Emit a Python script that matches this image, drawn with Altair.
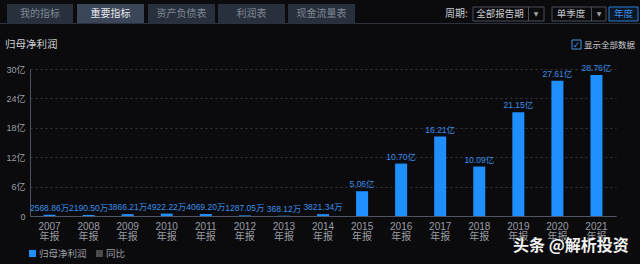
import altair as alt
import pandas as pd

# ---------------- data ----------------
years = ["2007", "2008", "2009", "2010", "2011", "2012", "2013", "2014",
         "2015", "2016", "2017", "2018", "2019", "2020", "2021"]
profit_yi = [0.256886, 0.219050, 0.386621, 0.492222, 0.406920, 0.128705, 0.036812, 0.382134,
             5.06, 10.70, 16.21, 10.09, 21.15, 27.61, 28.76]
profit_labels = ["2568.86万", "2190.50万", "3866.21万", "4922.22万", "4069.20万", "1287.05万",
                 "368.12万", "3821.34万", "5.06亿", "10.70亿", "16.21亿", "10.09亿",
                 "21.15亿", "27.61亿", "28.76亿"]
y_ticks = [0, 6, 12, 18, 24, 30]
tabs = ["我的指标", "重要指标", "资产负债表", "利润表", "现金流量表"]

# ---------------- layout / style ----------------
BG = "#0b0b0d"
BLUE = "#1f8fff"
LBLUE = "#3b8ee8"
OX, OY = 30, 69           # plot-area origin in page pixels
W, H = 586, 147
NUMF = "Liberation Sans, Noto Sans CJK SC, sans-serif"
CJKF = "Noto Sans CJK SC, sans-serif"

df = pd.DataFrame({"year": years, "value": profit_yi, "label": profit_labels})

xenc = alt.X("year:N", sort=None, title=None,
             scale=alt.Scale(paddingInner=0, paddingOuter=0),
             axis=alt.Axis(labelExpr="[datum.label, '年报']", labelAngle=0, ticks=False,
                           domainColor="#4f5563", labelColor="#9a9da3", labelFontSize=10,
                           labelFont=NUMF, labelLineHeight=10, labelPadding=5, grid=False,
                           labelOverlap=False))
yaxis = alt.Axis(values=y_ticks, tickCount=20,
                 labelExpr="datum.value == 0 ? '0' : datum.value + '亿'",
                 ticks=False, domainColor="#4c5062", labelColor="#9a9da3",
                 labelFontSize=9, labelFont=NUMF, labelPadding=5,
                 labelOverlap=False, labelFlush=False,
                 gridColor="#34363c", gridDash=[2, 3], gridWidth=1)
yenc = alt.Y("value:Q", title=None, scale=alt.Scale(domain=[0, 30], nice=False), axis=yaxis)

bars = alt.Chart(df).mark_bar(size=12, color=BLUE).encode(x=xenc, y=yenc)
labels = alt.Chart(df).mark_text(dy=-2, baseline="bottom", fontSize=8.5, color=LBLUE,
                                 font=NUMF).encode(x=alt.X("year:N", sort=None),
                                                   y=alt.Y("value:Q", axis=yaxis),
                                                   text="label:N")

one = alt.Data(values=[{"a": 1}])


def rect(x1, y1, x2, y2, fill, stroke=None, sw=1):
    kw = dict(fill=fill)
    if stroke:
        kw.update(stroke=stroke, strokeWidth=sw)
    return alt.Chart(one).mark_rect(**kw).encode(
        x=alt.value(x1 - OX), x2=alt.value(x2 - OX),
        y=alt.value(y1 - OY), y2=alt.value(y2 - OY))


def text(s, x, y, size=10, color="#cccccc", align="left", font=CJKF, weight="normal"):
    return alt.Chart(one).mark_text(text=s, align=align, baseline="middle", fontSize=size,
                                    color=color, font=font, fontWeight=weight).encode(
        x=alt.value(x - OX), y=alt.value(y - OY))


deco = []
# tab bar
deco.append(rect(0, 23, 640, 24, "#2b323d"))
tab_x = [(7, 73), (77, 144), (148, 215), (218, 285), (288, 355)]
for i, (t, (a, b)) in enumerate(zip(tabs, tab_x)):
    sel = i == 1
    deco.append(rect(a, 4, b, 23, "#3b4659" if sel else "#27303c"))
    deco.append(text(t, (a + b) / 2, 14, 10, "#e3e6ea" if sel else "#7f8794", "center"))

# period controls
deco.append(text("周期:", 445, 14, 10, "#c8cbd0"))
deco.append(rect(473, 7, 544, 21, BG, "#4a4f5a"))
deco.append(rect(528, 7, 529, 21, "#4a4f5a"))
deco.append(text("全部报告期", 500, 14, 9.5, "#c8cbd0", "center"))
deco.append(text("▼", 536, 14, 6, "#a0a4ab", "center", "DejaVu Sans"))
deco.append(rect(552, 7, 606, 21, BG, "#4a4f5a"))
deco.append(rect(591, 7, 592, 21, "#4a4f5a"))
deco.append(text("单季度", 571, 14, 9.5, "#c8cbd0", "center"))
deco.append(text("▼", 599, 14, 6, "#a0a4ab", "center", "DejaVu Sans"))
deco.append(rect(609, 7, 638, 21, "#0d1824", "#2a7fd6"))
deco.append(text("年度", 623.5, 14, 9.5, LBLUE, "center"))

# title & checkbox
deco.append(text("归母净利润", 5, 45, 10.5, "#c9ccd1"))
deco.append(rect(572, 40, 581, 49, BG, "#4a90e0"))
deco.append(text("✓", 576.5, 44.5, 9, "#4a90e0", "center", "DejaVu Sans"))
deco.append(text("显示全部数据", 584, 45, 8.5, "#c9ccd1"))

# legend
deco.append(rect(29, 250, 36, 257, BLUE))
deco.append(text("归母净利润", 39, 254, 9.5, "#9a9da3"))
deco.append(rect(96, 250, 103, 257, "#4a4a4a"))
deco.append(text("同比", 106, 254, 9.5, "#9a9da3"))

# watermark
deco.append(text("头条 @解析投资", 513, 246, 16, "#f2f2f2", weight="bold"))

chart = alt.layer(bars, labels, *deco).properties(
    width=W, height=H,
    autosize=alt.AutoSizeParams(type="none"),
    padding={"left": OX, "top": OY, "right": 640 - OX - W, "bottom": 264 - OY - H},
).configure(background=BG).configure_view(stroke=None)

chart.save("out.html", embed_options={"renderer": "svg", "actions": False})
